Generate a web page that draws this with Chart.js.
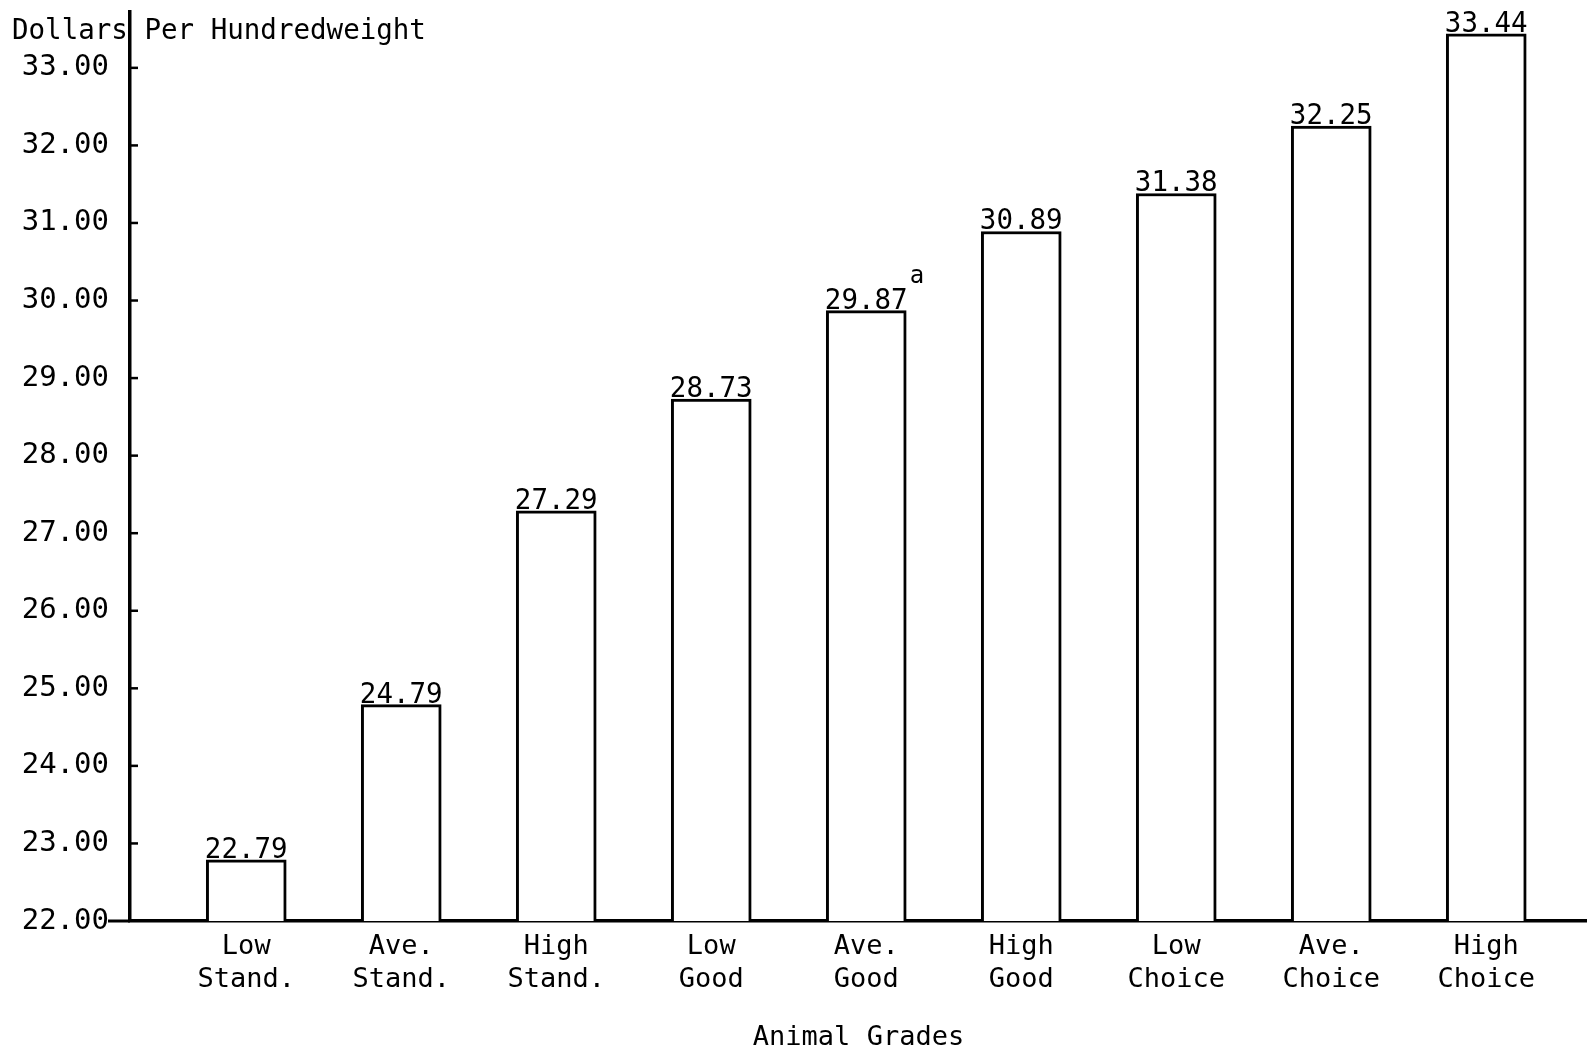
<!DOCTYPE html>
<html>
<head>
<meta charset="utf-8">
<script src="https://cdn.jsdelivr.net/npm/chart.js@4/dist/chart.umd.min.js"></script>
<style>
  html, body { margin: 0; padding: 0; background: #fff; }
  #wrap { width: 1587px; height: 1054px; }
</style>
</head>
<body>
<div id="wrap"><canvas id="chart"></canvas></div>
<script>
// ===== DATA =====
const grades = [
  ["Low", "Stand."], ["Ave.", "Stand."], ["High", "Stand."],
  ["Low", "Good"], ["Ave.", "Good"], ["High", "Good"],
  ["Low", "Choice"], ["Ave.", "Choice"], ["High", "Choice"]
];
const prices = [22.79, 24.79, 27.29, 28.73, 29.87, 30.89, 31.38, 32.25, 33.44];
const footnoteMarks = ["", "", "", "", "a", "", "", "", ""];
const yTicks = [22, 23, 24, 25, 26, 27, 28, 29, 30, 31, 32, 33];

const INK = "#000";
const MONO = "'DejaVu Sans Mono', 'Liberation Mono', monospace";

// ===== PLUGIN: axis title, inner ticks, value labels =====
const decorations = {
  id: "decorations",
  afterDatasetsDraw(chart) {
    const { ctx, scales: { y } } = chart;
    const left = chart.chartArea.left;
    ctx.save();
    ctx.fillStyle = INK;
    ctx.strokeStyle = INK;

    // y axis title across the top
    ctx.font = "27.5px " + MONO;
    ctx.textAlign = "left";
    ctx.textBaseline = "middle";
    ctx.fillText("Dollars Per Hundredweight", 12, 32);

    // small tick marks pointing into the plot
    ctx.lineWidth = 2.5;
    yTicks.slice(1).forEach(v => {
      const py = y.getPixelForValue(v);
      ctx.beginPath();
      ctx.moveTo(left, py);
      ctx.lineTo(left + 8, py);
      ctx.stroke();
    });

    // baseline runs a little left of the axis, under "22.00"
    const py0 = y.getPixelForValue(yTicks[0]);
    ctx.lineWidth = 3;
    ctx.beginPath();
    ctx.moveTo(left - 22, py0);
    ctx.lineTo(left, py0);
    ctx.stroke();

    // value labels on top of each bar
    const meta = chart.getDatasetMeta(0);
    meta.data.forEach((bar, i) => {
      const txt = prices[i].toFixed(2);
      ctx.font = "27.5px " + MONO;
      ctx.textAlign = "center";
      ctx.textBaseline = "alphabetic";
      ctx.fillText(txt, bar.x, bar.y - 2);
      if (footnoteMarks[i]) {
        const w = ctx.measureText(txt).width;
        ctx.font = "24px " + MONO;
        ctx.textAlign = "left";
        ctx.fillText(footnoteMarks[i], bar.x + w / 2 + 2, bar.y - 28);
      }
    });
    ctx.restore();
  }
};

// ===== CHART =====
new Chart(document.getElementById("chart"), {
  type: "bar",
  data: {
    datasets: [{
      data: prices.map((p, i) => ({ x: i, y: p })),
      backgroundColor: "#fff",
      borderColor: INK,
      borderWidth: 3,
      barThickness: 80
    }]
  },
  options: {
    responsive: true,
    maintainAspectRatio: false,
    animation: false,
    layout: { padding: { top: 12, right: 0, bottom: 0, left: 0 } },
    plugins: { legend: { display: false }, tooltip: { enabled: false } },
    scales: {
      x: {
        type: "linear",
        offset: false,
        bounds: "data",
        min: -0.75,
        max: 8.65,
        afterBuildTicks: s => { s.ticks = grades.map((g, i) => ({ value: i })); },
        afterFit: s => {
          s.height = 133;
          s.paddingLeft = 0;
          s.paddingRight = 0;
        },
        grid: { offset: false, drawOnChartArea: false, drawTicks: false },
        border: { display: true, color: INK, width: 3.5 },
        ticks: {
          autoSkip: false,
          maxRotation: 0,
          padding: 10,
          color: INK,
          font: { family: MONO, size: 27, lineHeight: 1.2 },
          callback: v => grades[Math.round(v)] || ""
        },
        title: {
          display: true,
          text: "Animal Grades",
          color: INK,
          font: { family: MONO, size: 27, lineHeight: 1.2 },
          padding: { top: 0, bottom: 0 }
        }
      },
      y: {
        bounds: "data",
        min: 22,
        max: 33.72,
        afterBuildTicks: s => { s.ticks = yTicks.map(v => ({ value: v })); },
        afterFit: s => {
          s.width = 130;
          s.paddingTop = 0;
          s.paddingBottom = 0;
        },
        grid: { drawOnChartArea: false, drawTicks: false },
        border: { display: true, color: INK, width: 3.5 },
        ticks: {
          padding: 21,
          color: INK,
          font: { family: MONO, size: 29 },
          callback: v => v.toFixed(2)
        }
      }
    }
  },
  plugins: [decorations]
});
</script>
</body>
</html>
